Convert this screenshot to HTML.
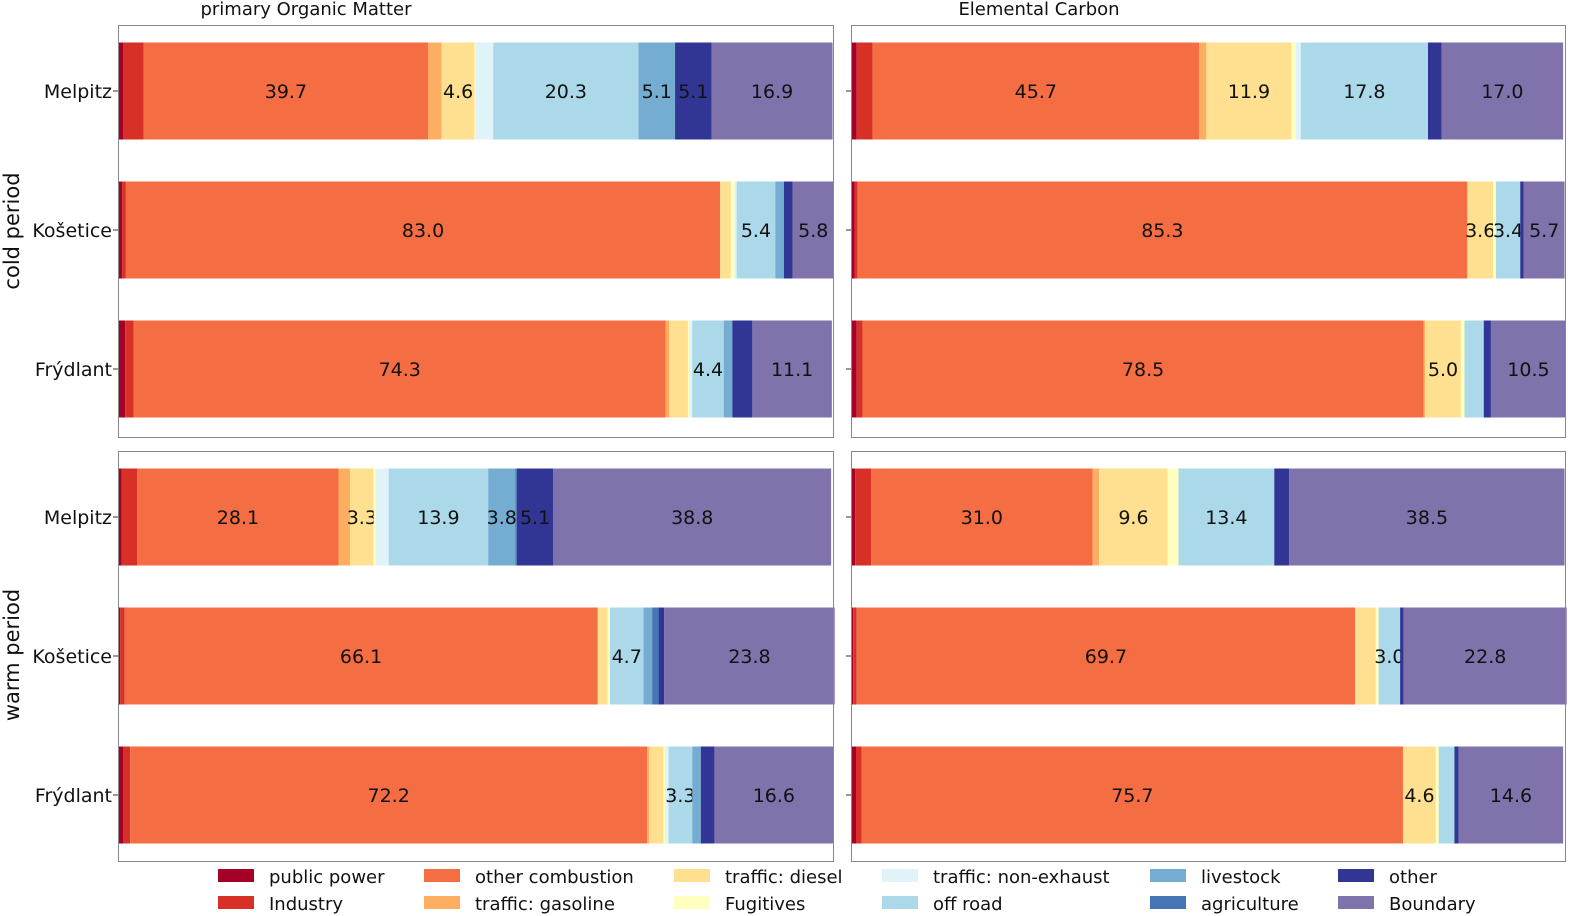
<!DOCTYPE html>
<html><head><meta charset="utf-8"><style>
html,body{margin:0;padding:0;background:#fff;overflow:hidden;width:1572px;height:916px;}
svg{display:block;font-family:"DejaVu Sans","Liberation Sans",sans-serif;}
</style></head><body>
<svg id="chart" width="1572" height="916" viewBox="0 0 1572 916"></svg>
<script>
const categories = ["public power","Industry","other combustion","traffic: gasoline","traffic: diesel","Fugitives","traffic: non-exhaust","off road","livestock","agriculture","other","Boundary"];
const colors = ["#a50026","#d73027","#f46d43","#fdae61","#fee090","#ffffbf","#e0f3f8","#abd9e9","#74add1","#4575b4","#313695","#8073ac"];
const sites = ["Melpitz","Košetice","Frýdlant"];
const panelTitles = ["primary Organic Matter","Elemental Carbon"];
const periodLabels = ["cold period","warm period"];
const coldOM = [
  [0.7,2.9,39.7,1.9,4.6,0.1,2.5,20.3,5.1,0,5.1,16.9],
  [0.6,0.5,83.0,0,1.5,0.5,0.3,5.4,1.2,0,1.2,5.8],
  [1.0,1.2,74.3,0.5,2.6,0.2,0.4,4.4,1.2,0,2.8,11.1]
];
const coldEC = [
  [0.8,2.2,45.7,1.0,11.9,0.6,0.7,17.8,0,0,1.9,17.0],
  [0.5,0.4,85.3,0,3.6,0.4,0,3.4,0,0,0.5,5.7],
  [0.8,0.8,78.5,0.2,5.0,0.5,0,2.7,0,0,1.0,10.5]
];
const warmOM = [
  [0.5,2.2,28.1,1.6,3.3,0.3,1.8,13.9,3.8,0.2,5.1,38.8],
  [0.3,0.6,66.1,0,1.4,0.3,0,4.7,1.2,0.9,0.8,23.8],
  [0.7,1.0,72.2,0.3,2.0,0.2,0.5,3.3,1.2,0,1.9,16.6]
];
const warmEC = [
  [0.6,2.2,31.0,0.9,9.6,1.5,0,13.4,0,0,2.1,38.5],
  [0.3,0.5,69.7,0,2.9,0.4,0,3.0,0,0,0.5,22.8],
  [0.7,0.8,75.7,0,4.6,0.4,0,2.2,0,0,0.6,14.6]
];
const panelData = [[coldOM,coldEC],[warmOM,warmEC]];

const NS="http://www.w3.org/2000/svg";
const svg=document.getElementById('chart');
function mk(tag,attrs,parent){const e=document.createElementNS(NS,tag);for(const k in attrs)e.setAttribute(k,attrs[k]);(parent||svg).appendChild(e);return e;}
const colX=[118,851], colW=[716,715];
const rowY=[25,451], rowH=[412,410];
function xScale(c,v){return colX[c]+v/100*colW[c];}
function yCenter(r,i){return rowY[r]+66+i*139;}
const barH=97;

for(let r=0;r<2;r++){
  for(let c=0;c<2;c++){
    const g=mk('g',{});
    
    
    const data=panelData[r][c];
    data.forEach((vals,i)=>{
      const yc=yCenter(r,i);
      let acc=0;
      vals.forEach((v,k)=>{
        if(v<=0){return;}
        const x0=xScale(c,acc), x1=xScale(c,acc+v);
        const rect=mk('rect',{x:x0,y:yc-barH/2,width:x1-x0,height:barH,fill:colors[k]},g);
        
        
        if(v>=3){
          const t=mk('text',{x:(x0+x1)/2,y:yc+7,'text-anchor':'middle','font-size':19,fill:'#111'},g);
          t.textContent=v.toFixed(1);
          
          
        }
        acc+=v;
      });
      mk('line',{x1:colX[c]-5,x2:colX[c],y1:yc,y2:yc,stroke:'#333','stroke-width':1},g);
      if(c===0){
        const t=mk('text',{x:colX[c]-6,y:yc+7,'text-anchor':'end','font-size':19,fill:'#111'},g);
        t.textContent=sites[i];
        
        
      }
    });
    const fr=mk('rect',{x:colX[c]+0.5,y:rowY[r]+0.5,width:colW[c]-1,height:rowH[r],fill:'none',stroke:'#888','stroke-width':1},g);
    
    
  }
}
[306,1039].forEach((x,c)=>{
  const t=mk('text',{x:x,y:15,'text-anchor':'middle','font-size':18,fill:'#111'});
  t.textContent=panelTitles[c];
  
  
});
[231,655].forEach((y,r)=>{
  const t=mk('text',{x:0,y:0,'text-anchor':'middle','font-size':21,fill:'#111',transform:'translate(19,'+y+') rotate(-90)'});
  t.textContent=periodLabels[r];
  
  
});
const legX=[218,424,674,882,1150,1338];
categories.forEach((cat,k)=>{
  const col=Math.floor(k/2), row=k%2;
  const y=876+row*27;
  const g=mk('g',{});
  
  
  mk('rect',{x:legX[col],y:y-7,width:36,height:13,fill:colors[k]},g);
  const t=mk('text',{x:legX[col]+51,y:y+7,'font-size':18,fill:'#111'},g);
  t.textContent=cat;
});
</script>
</body></html>
